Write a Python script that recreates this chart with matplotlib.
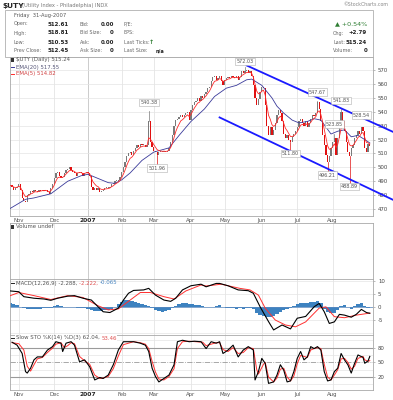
import numpy as np
import pandas as pd
import matplotlib
matplotlib.use("Agg")
import matplotlib.pyplot as plt
from matplotlib.patches import Rectangle

# ---------------- data (trading-day index 0 = 25-Oct-2006) ----------------
closes = [
    487, 486, 484, 485, 486, 488, 484, 478, 476, 475,
    480, 481, 483, 482, 484, 483, 482, 484, 483, 484,
    483, 484, 482, 481, 485, 488, 492, 496, 497, 494,
    492, 493, 496, 498, 499, 500, 498, 497, 496, 494,
    496, 497, 496, 494, 496, 497, 496, 494, 486, 484,
    485, 484, 485, 482, 483, 484, 485, 485, 485, 486,
    488, 488, 490, 490, 491, 493, 497, 500, 504, 508,
    510, 511, 509, 512, 514, 516, 515, 517, 516, 516,
    515, 516, 533, 518, 515, 512, 511, 509, 511, 511,
    511, 512, 511, 512, 514, 518, 523, 530, 534, 535,
    536, 538, 536, 538, 539, 540, 534, 541, 545, 547,
    548, 550, 548, 551, 550, 553, 554, 557, 558, 562,
    565, 566, 563, 564, 566, 562, 559, 563, 564, 565,
    564, 566, 565, 564, 566, 563, 565, 569, 568, 569,
    570, 568, 569, 566, 559, 550, 545, 549, 554, 558,
    557, 545, 530, 523, 529, 523, 527, 532, 538, 541,
    539, 533, 524, 521, 523, 520, 518, 522, 524, 526,
    529, 533, 535, 532, 530, 533, 529, 532, 535, 538,
    537, 539, 547, 542, 533, 523, 516, 509, 504, 508,
    514, 518, 521, 509, 521, 533, 540, 533, 526, 518,
    511, 508, 514, 516, 521, 523, 526, 524, 529, 526,
    514, 511, 517, 515.24,
]

ema20_days = [0, 9, 14, 24, 34, 42, 46, 52, 58, 62, 66, 71, 78, 85, 88, 94, 100,
              107, 115, 121, 128, 134, 140, 143, 149, 155, 158, 162, 167, 171,
              176, 180, 184, 187, 190, 194, 198, 202, 206, 210, 213]
ema20_vals = [470.5, 477, 478, 481, 490, 494, 495, 492, 489, 488.5, 491, 496, 505,
              511, 512, 514, 523, 533, 542, 551, 557, 559, 563, 563.5, 559, 550,
              544, 539, 534, 532, 533, 535, 534, 529, 524, 526, 527, 522, 523,
              520, 517.55]

# marked extremes: (day, value, high/low)
ext_days = [82, 87, 139, 182, 196, 208, 192, 166, 188, 201]
ext_vals = [540.38, 501.96, 572.03, 547.67, 541.83, 528.54, 523.85, 511.80, 496.21, 488.89]
ext_kind = ['high', 'low', 'high', 'high', 'high', 'high', 'high', 'low', 'low', 'low']

# trend channel lines (day, price)
trend_upper = [(139.5, 573.6), (227.0, 525.4)]
trend_lower = [(123.5, 536.2), (227.0, 476.5)]

macd_days = [0, 5, 8, 14, 20, 24, 28, 34, 38, 43, 48, 52, 55, 59, 64, 67, 70, 73, 79,
             82, 86, 91, 95, 98, 102, 107, 113, 116, 122, 124, 129, 135, 141, 144,
             148, 153, 156, 161, 166, 170, 175, 180, 183, 186, 189, 192, 195, 198,
             202, 205, 208, 211, 213]
macd_vals = [6.3, 6.0, 4.1, 3.5, 3.2, 2.7, 3.5, 4.3, 4.5, 3.5, 2.8, 0.2, -1.7, -2.0,
             -0.3, 2.8, 5.4, 6.5, 6.7, 7.3, 4.7, 2.8, 2.3, 3.5, 6.7, 8.3, 8.9, 7.9,
             9.2, 9.2, 8.3, 6.7, 6.4, 5.4, 0.2, -5.5, -8.7, -6.8, -8.3, -4.2, -3.5,
             0.2, 1.5, -1.7, -6.2, -5.6, -2.7, -3.0, -3.8, -2.7, -0.8, -2.0, -2.288]
sig_days = [0, 5, 14, 24, 34, 43, 52, 58, 64, 70, 77, 83, 91, 97, 104, 113, 116, 125,
            136, 142, 147, 151, 157, 163, 169, 175, 183, 187, 192, 198, 205, 213]
sig_vals = [4.5, 5.7, 4.5, 3.0, 4.5, 3.8, 0.6, -1.0, -0.6, 2.3, 5.7, 5.7, 4.1, 3.2,
            6.3, 8.6, 8.2, 8.9, 7.3, 6.7, 4.7, -0.3, -4.9, -6.8, -7.5, -5.6, -0.3,
            0.2, -3.6, -4.0, -3.0, -2.222]
hist_days = list(range(0, 213, 2))
hist_vals = [1.5, 1.2, 0.8, 0.2, -0.4, -0.7, -0.8, -0.7, -0.6, -0.5,
             -0.4, -0.3, -0.2, 0.4, 0.9, 0.7, 0.3, 0.2, 0.3, 0.2,
             -0.2, -0.3, -0.4, -0.6, -1.0, -1.4, -1.6, -1.5, -1.2, -0.9,
             -0.5, 0.3, 1.2, 2.2, 2.8, 2.8, 2.5, 2.0, 1.6, 1.2,
             0.8, 0.4, -0.4, -1.0, -1.5, -1.7, -1.5, -1.0, -0.4, 0.5,
             1.4, 1.7, 1.6, 1.3, 1.1, 1.0, 0.9, 0.6, 0.2, 0.1,
             0.3, 0.7, 0.8, 0.2, -0.2, -0.3, -0.4, -0.5, -0.4, -0.5,
             -0.4, -0.3, -0.8, -2.0, -2.8, -3.5, -3.9, -3.7, -3.2, -2.6,
             -1.8, -1.2, -0.8, -0.4, 0.4, 1.2, 1.7, 1.8, 1.7, 1.9,
             2.0, 2.6, 1.8, -0.6, -1.8, -2.3, -2.0, -1.2, 0.6, 1.0,
             0.3, -0.5, 0.6, 1.4, 1.6, 0.5, -0.1]

k_days = [1, 4, 7, 9, 10, 12, 14, 16, 19, 22, 25, 27, 30, 31, 33, 36, 38, 41, 44, 47,
          50, 53, 55, 58, 61, 64, 67, 73, 77, 80, 82, 84, 86, 88, 91, 94, 97, 99, 102,
          106, 109, 113, 116, 119, 122, 124, 126, 129, 132, 135, 138, 141, 144, 145,
          147, 149, 151, 153, 156, 158, 160, 162, 164, 166, 168, 170, 172, 174, 176,
          178, 180, 182, 184, 186, 188, 190, 192, 194, 196, 198, 200, 202, 204, 206,
          209, 210, 212, 213]
k_vals = [91, 85, 68, 31, 28, 38, 55, 61, 61, 75, 82, 92, 89, 72, 89, 92, 85, 51, 55, 41,
          14, 19, 17, 24, 45, 75, 92, 92, 89, 85, 72, 38, 21, 10, 17, 24, 45, 92, 95, 92,
          93, 92, 78, 92, 89, 92, 68, 75, 85, 61, 75, 82, 75, 14, 31, 58, 48, 7, 10, 24,
          45, 34, 10, 12, 31, 58, 72, 55, 61, 82, 78, 82, 75, 31, 12, 14, 31, 38, 68, 55,
          45, 28, 48, 65, 60, 48, 53, 62.04]
d_days = [1, 5, 8, 10, 12, 14, 16, 19, 22, 25, 27, 30, 32, 34, 36, 38, 41, 44, 47, 50,
          53, 55, 58, 61, 64, 67, 73, 77, 80, 82, 84, 86, 88, 91, 94, 97, 99, 102, 106,
          110, 114, 116, 119, 122, 124, 126, 129, 132, 135, 138, 141, 144, 146, 147,
          150, 151, 153, 156, 158, 160, 162, 164, 166, 168, 170, 172, 174, 176, 178,
          180, 182, 184, 186, 188, 190, 192, 194, 196, 198, 200, 202, 204, 206, 209,
          210, 212, 213]
d_vals = [90, 88, 75, 42, 32, 45, 57, 60, 70, 79, 87, 90, 80, 84, 90, 88, 62, 53, 46, 24,
          17, 18, 21, 37, 63, 86, 92, 90, 87, 78, 52, 30, 16, 14, 21, 37, 78, 92, 93, 92,
          91, 84, 87, 90, 90, 76, 72, 80, 68, 70, 80, 78, 35, 26, 46, 50, 20, 10, 18, 36,
          38, 20, 12, 22, 47, 64, 62, 60, 75, 78, 80, 78, 46, 20, 14, 24, 35, 57, 58, 50,
          36, 42, 58, 62, 55, 52, 53.46]

month_days = [5, 26, 46, 66, 85, 107, 127, 149, 170, 191]
month_labels = ['Nov', 'Dec', '2007', 'Feb', 'Mar', 'Apr', 'May', 'Jun', 'Jul', 'Aug']

price_ticks = [470, 480, 490, 500, 510, 520, 530, 540, 550, 560, 570]
macd_ticks = [10, 5, 0, -5]
sto_ticks = [80, 50, 20]

# ---------------- figure ----------------
plt.rcParams['font.family'] = ['DejaVu Sans']
W, H = 393, 400
fig = plt.figure(figsize=(W / 100, H / 100), dpi=100)
fig.patch.set_facecolor('white')


def fx(x):
    return x / W


def fy(y):
    return 1 - y / H


def add_ax(y0, y1, x0=9.5, x1=372.5):
    return fig.add_axes([fx(x0), fy(y1), (x1 - x0) / W, (y1 - y0) / H])


GRID = '#e4e4e4'
SPINE = '#a8a8a8'
TXT = '#444444'
FS = 3.9


def style(ax, ylim, yticks):
    ax.set_xlim(-0.5, 214.6)
    ax.set_ylim(*ylim)
    for sp in ax.spines.values():
        sp.set_color(SPINE)
        sp.set_linewidth(0.6)
    ax.yaxis.tick_right()
    ax.set_yticks(yticks)
    ax.tick_params(axis='y', length=1.5, width=0.4, color='#888888',
                   labelcolor=TXT, labelsize=FS, pad=2.5)
    ax.set_xticks(month_days)
    ax.tick_params(axis='x', length=0, labelbottom=False)
    for d, lab in zip(month_days, month_labels):
        ax.axvline(d, color='#c4c4c4' if lab == '2007' else GRID, lw=0.6, zorder=0)


def xlabels(ax):
    ax.set_xticklabels(month_labels)
    ax.tick_params(axis='x', labelbottom=True, labelsize=FS, pad=1.2, labelcolor='#555555')
    for t in ax.get_xticklabels():
        if t.get_text() == '2007':
            t.set_fontweight('bold')
            t.set_color('#222222')
            t.set_fontsize(4.3)


# ---------- header ----------
fig.text(fx(2), fy(6), '$UTY', fontsize=5.3, fontweight='bold', color='#222222', va='center')
fig.text(fx(22), fy(6), '(Utility Index - Philadelphia) INDX', fontsize=3.7,
         color='#777777', va='center')
fig.text(fx(388), fy(4), '\u00a9StockCharts.com', fontsize=3.4, color='#888888',
         va='center', ha='right')
fig.patches.append(Rectangle((fx(5), fy(57)), (372.5 - 5) / W, 47 / H,
                             transform=fig.transFigure, fill=False,
                             edgecolor='#b0b0b0', lw=0.6))

LFS = 3.5
VFS = 4.0
fig.text(fx(14), fy(15), 'Friday  31-Aug-2007', fontsize=3.7, color='#555555', va='center')
rows = [
    ('Open:', '512.61', 'Bid:', '0.00', 'P/E:', ''),
    ('High:', '518.81', 'Bid Size:', '0', 'EPS:', ''),
    ('Low:', '510.53', 'Ask:', '0.00', 'Last Ticks:', ''),
    ('Prev Close:', '512.45', 'Ask Size:', '0', 'Last Size:', 'n/a'),
]
for i, (a, b, c, d, e, f) in enumerate(rows):
    yy = fy(24 + 9 * i)
    fig.text(fx(14), yy, a, fontsize=LFS, color='#666666', va='center')
    fig.text(fx(69), yy, b, fontsize=VFS, color='#222222', va='center', ha='right',
             fontweight='bold')
    fig.text(fx(80), yy, c, fontsize=LFS, color='#666666', va='center')
    fig.text(fx(114), yy, d, fontsize=VFS, color='#222222', va='center', ha='right',
             fontweight='bold')
    fig.text(fx(124), yy, e, fontsize=LFS, color='#666666', va='center')
    if f:
        fig.text(fx(156), yy, f, fontsize=3.6, color='#222222', va='center',
                 fontweight='bold')
fig.text(fx(149), fy(42), '\u2191', fontsize=4.5, color='#2e7d32', va='center',
         fontweight='bold')

fig.text(fx(367), fy(24), '\u25b2 +0.54%', fontsize=4.6, color='#2e7d32', va='center',
         ha='right')
right_rows = [('Chg:', '+2.79'), ('Last:', '515.24'), ('Volume:', '0')]
for i, (a, b) in enumerate(right_rows):
    yy = fy(33 + 9 * i)
    fig.text(fx(333), yy, a, fontsize=LFS, color='#666666', va='center')
    fig.text(fx(367), yy, b, fontsize=VFS, color='#222222', va='center', ha='right',
             fontweight='bold')

# ---------- price panel ----------
ax_p = add_ax(57, 216)
style(ax_p, (465.0, 579.4), price_ticks)
for t in price_ticks:
    ax_p.axhline(t, color=GRID, lw=0.5, zorder=0)
xlabels(ax_p)

days = np.arange(len(closes))
c = np.array(closes, dtype=float)
prev = np.concatenate([[c[0]], c[:-1]])
up = c >= prev
lo = np.minimum(c, prev)
hi = np.maximum(c, prev)
height = np.maximum(hi - lo, 0.6)
colors = np.where(up, '#7a7a7a', '#e01010')
ax_p.bar(days, height, bottom=lo, width=0.75, color=colors, linewidth=0, zorder=3)

# wicks at marked extremes
for d, v in zip(ext_days, ext_vals):
    ax_p.plot([d, d], [c[d], v], color='#7a7a7a' if up[d] else '#e01010',
              lw=0.5, zorder=3)

ema5 = pd.Series(c).ewm(span=5, adjust=False).mean().values
ax_p.plot(ema20_days, ema20_vals, color='#3a3a9a', lw=0.6, zorder=4)
ax_p.plot(days, ema5, color='#ff2a2a', lw=0.6, zorder=4)

for (a, b) in (trend_upper, trend_lower):
    ax_p.plot([a[0], b[0]], [a[1], b[1]], color='#1a1aff', lw=1.3, zorder=5,
              clip_on=False, solid_capstyle='butt')

label_off = [9, -3.5, 6, 9, 9, 12.5, 10, -2.5, -2.5, -3.5]
for d, v, off in zip(ext_days, ext_vals, label_off):
    ax_p.annotate(f'{v:.2f}', xy=(d, v), xytext=(0, off * 0.72), textcoords='offset points',
                  ha='center', va='center', fontsize=3.5, color='#555555', zorder=6,
                  bbox=dict(boxstyle='square,pad=0.25', facecolor='white',
                            edgecolor='#b0b0b0', lw=0.4))

fig.canvas.draw()
rend = fig.canvas.get_renderer()


def seq_text(x0, y0, parts, size, bg=False):
    x = x0
    for s, col in parts:
        kw = {}
        if bg:
            kw['bbox'] = dict(boxstyle='square,pad=0.1', facecolor='white', edgecolor='none')
        t = fig.text(fx(x), fy(y0), s, color=col, fontsize=size, va='center',
                     ha='left', zorder=10, **kw)
        bb = t.get_window_extent(renderer=rend)
        x += bb.width


fig.patches.append(Rectangle((fx(11), fy(62)), 3 / W, 4 / H, transform=fig.transFigure,
                             facecolor='#333333', edgecolor='none'))
fig.text(fx(15.5), fy(60), '$UTY (Daily) 515.24', fontsize=3.9, color='#555555', va='center')
fig.lines.append(plt.Line2D([fx(10.5), fx(14)], [fy(67), fy(67)], color='#3a3a9a', lw=0.7,
                            transform=fig.transFigure))
fig.text(fx(15.5), fy(67), 'EMA(20) 517.55', fontsize=3.9, color='#555577', va='center')
fig.lines.append(plt.Line2D([fx(10.5), fx(14)], [fy(73.5), fy(73.5)], color='#ff2a2a',
                            lw=0.7, transform=fig.transFigure))
fig.text(fx(15.5), fy(73.5), 'EMA(5) 514.82', fontsize=3.9, color='#d04040', va='center')

# ---------- volume panel ----------
ax_v = add_ax(223, 279)
style(ax_v, (0, 1), [])
fig.patches.append(Rectangle((fx(11), fy(229)), 3 / W, 4 / H, transform=fig.transFigure,
                             facecolor='#333333', edgecolor='none'))
fig.text(fx(15.5), fy(227), 'Volume undef', fontsize=3.9, color='#555555', va='center')

# ---------- MACD panel ----------
ax_m = add_ax(279, 335)
style(ax_m, (-10.65, 10.9), macd_ticks)
ax_m.set_yticklabels(['10', '5', '0', '-5'])
for t in [10, 5, 0, -5, -10]:
    ax_m.axhline(t, color=GRID, lw=0.5, zorder=0)
ax_m.bar(hist_days, hist_vals, width=2.0, color='#3d82c0', linewidth=0, zorder=2)
ax_m.axhline(0, color='#5a8ac0', lw=0.5, zorder=2)
ax_m.plot(sig_days, sig_vals, color='#ff3030', lw=0.7, zorder=3)
ax_m.plot(macd_days, macd_vals, color='#000000', lw=0.8, zorder=4)
fig.lines.append(plt.Line2D([fx(10.5), fx(14)], [fy(283), fy(283)], color='#222222', lw=0.7,
                            transform=fig.transFigure))
seq_text(15.5, 283, [('MACD(12,26,9) -2.288, ', '#555555'), ('-2.222, ', '#e05050'),
                     ('-0.065', '#4a86c0')], 3.9)

# ---------- Slow STO panel ----------
ax_s = add_ax(335, 390)
style(ax_s, (-6.5, 105.7), sto_ticks)
for t in [5, 35, 65, 95]:
    ax_s.axhline(t, color=GRID, lw=0.5, zorder=0)
ax_s.axhline(80, color='#9a9a9a', lw=0.8, zorder=1)
ax_s.axhline(20, color='#9a9a9a', lw=0.8, zorder=1)
ax_s.axhline(50, color='#9a9a9a', lw=0.6, ls='-.', zorder=1)
ax_s.plot(d_days, d_vals, color='#ff3030', lw=0.7, zorder=3)
ax_s.plot(k_days, k_vals, color='#000000', lw=0.8, zorder=4)
xlabels(ax_s)
fig.lines.append(plt.Line2D([fx(10.5), fx(14)], [fy(338), fy(338)], color='#222222', lw=0.7,
                            transform=fig.transFigure, zorder=11))
seq_text(15.5, 338, [('Slow STO %K(14) %D(3) 62.04, ', '#555555'), ('53.46', '#e05050')],
         3.9, bg=True)

fig.savefig('out.png', dpi=100, facecolor='white')
